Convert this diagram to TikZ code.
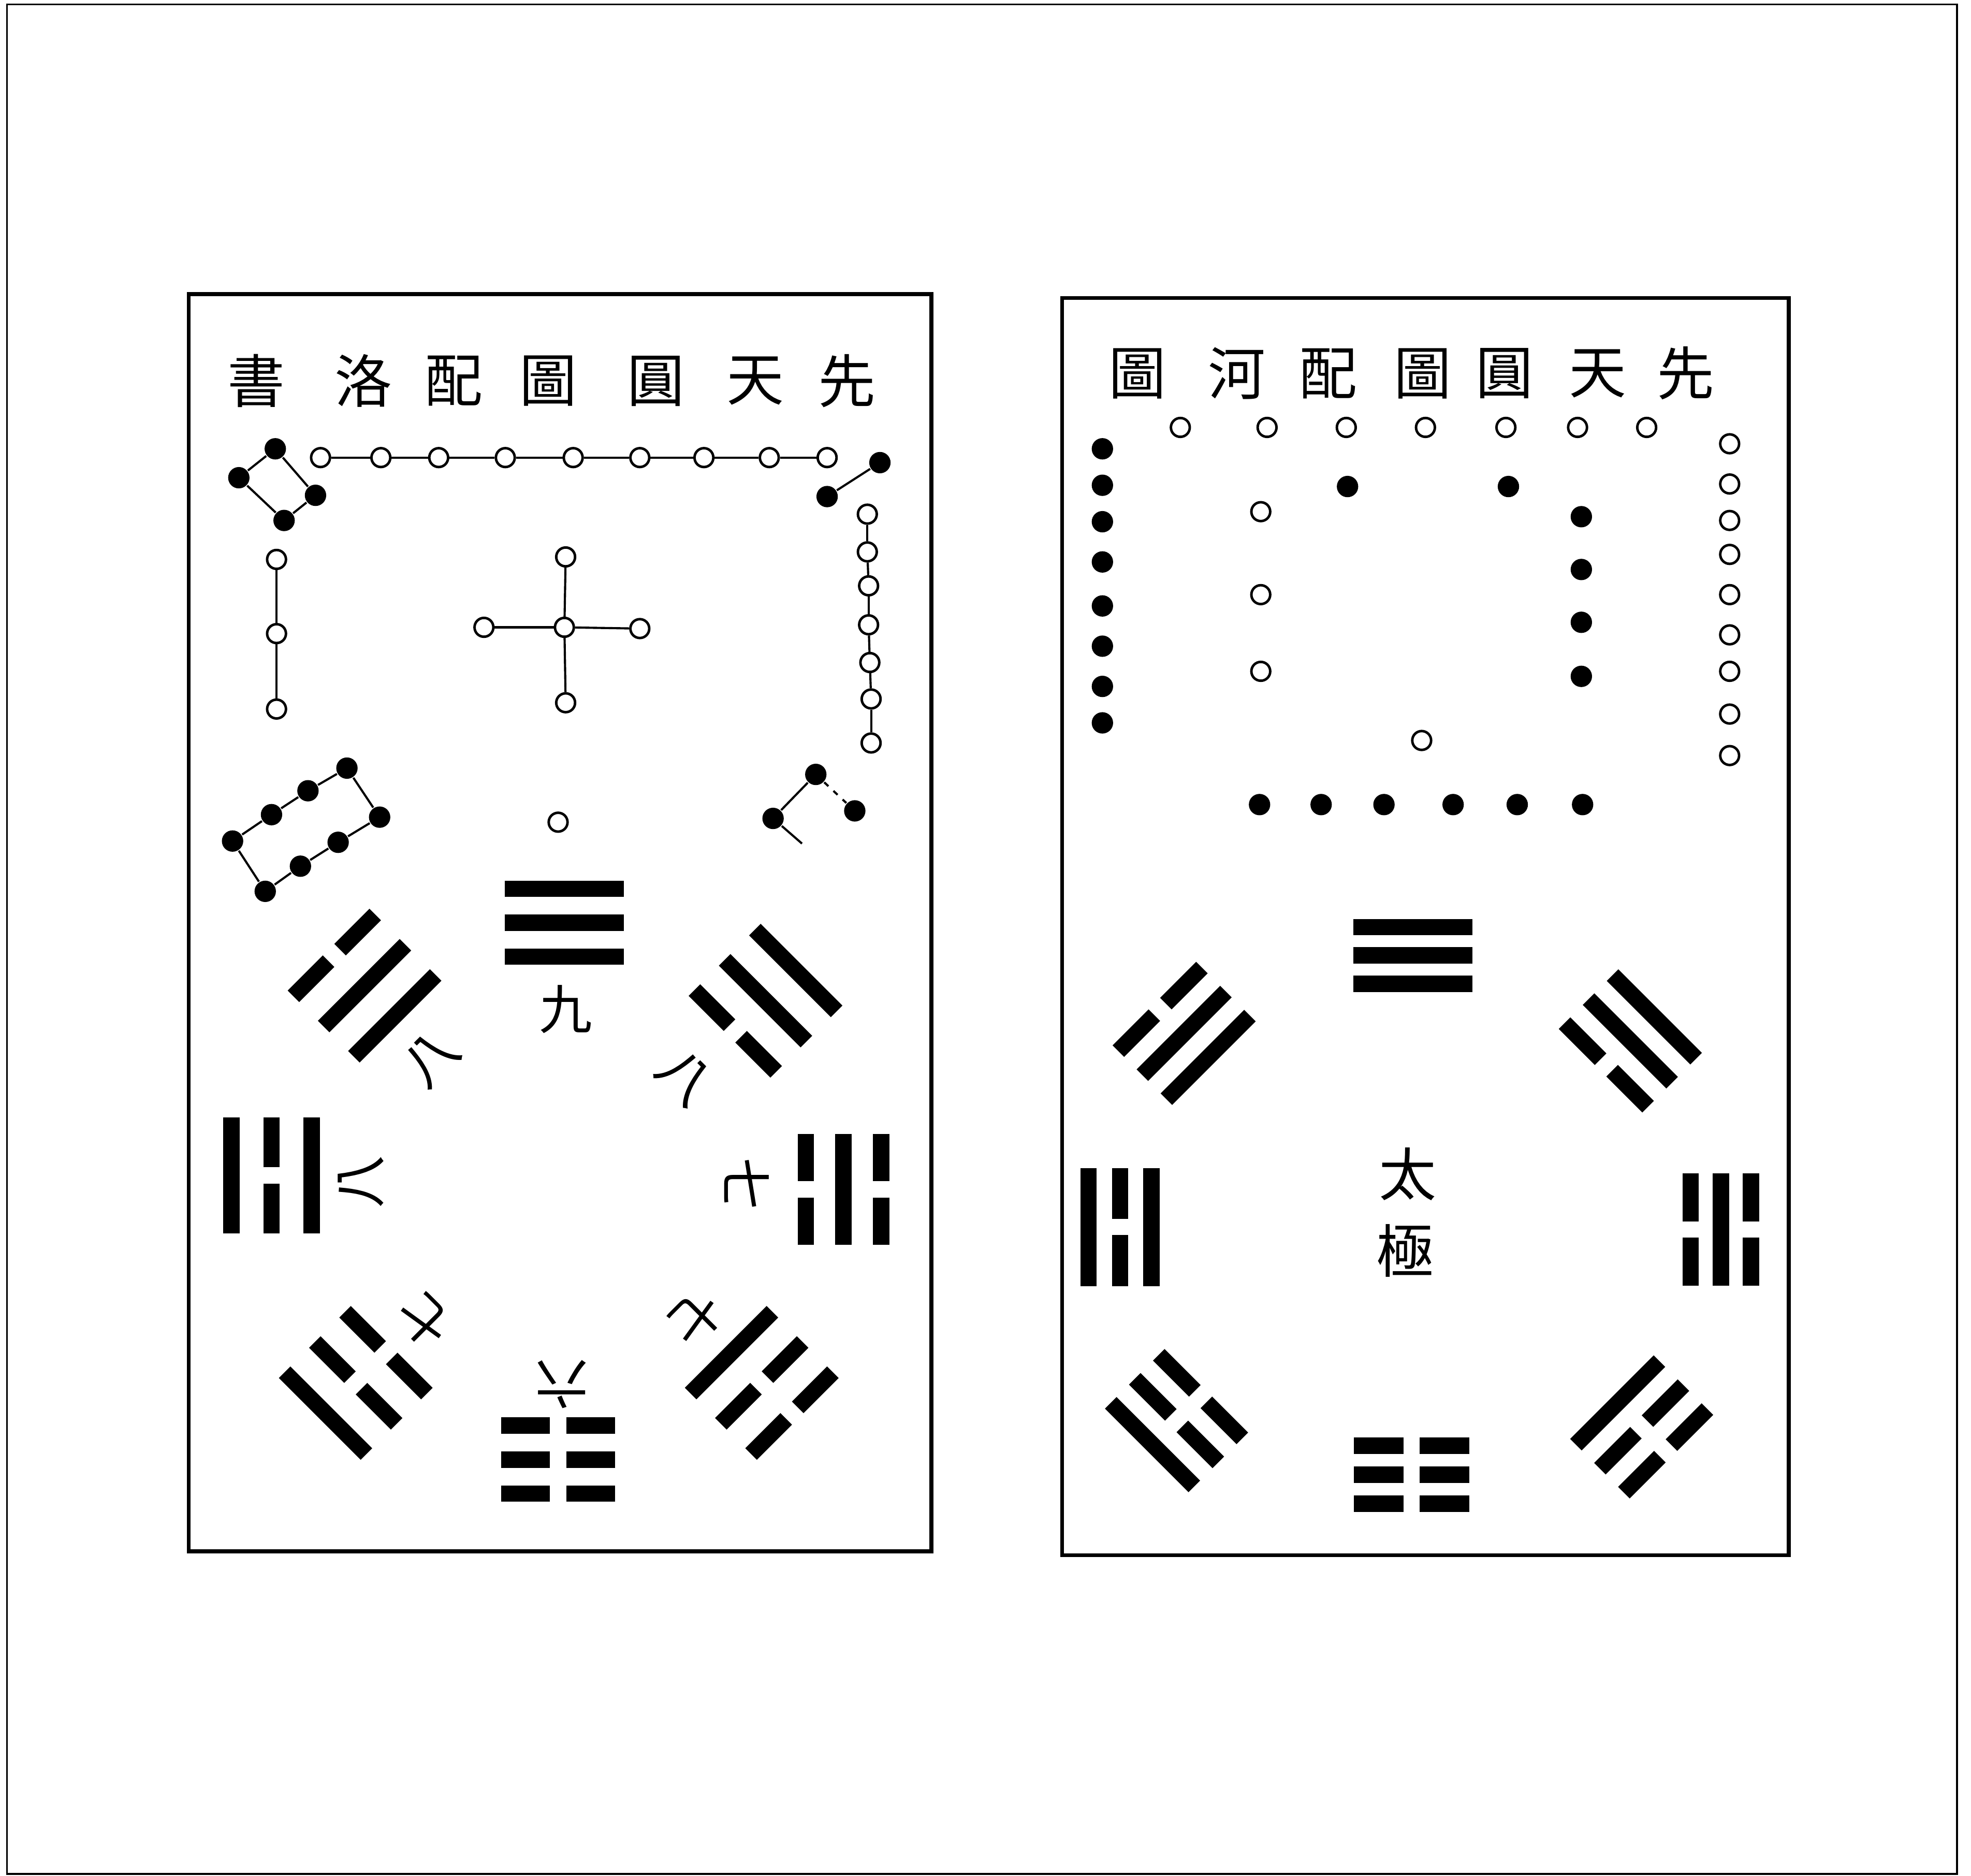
\documentclass[tikz,border=0pt]{standalone}
\usepackage{fontspec}
\newfontfamily\cjk{Noto Sans CJK TC}
\usetikzlibrary{positioning}

\newcommand{\gua}[6]{%
  \begin{scope}[shift={(#1,#2)},rotate=#3]
    \foreach \yy [count=\i] in {#6}{%
      \pgfmathsetmacro{\off}{(2-\i)*#4}%
      \ifnum\yy=1
        \draw[yao] (-#5/2,\off) -- (#5/2,\off);
      \else
        \draw[yao] (-#5/2,\off) -- (-6.5,\off) (6.5,\off) -- (#5/2,\off);
      \fi
    }
  \end{scope}}

\begin{document}
\begin{tikzpicture}[x=0.1mm, y=-0.1mm,
    opendot/.style={circle, draw, line width=0.2mm, inner sep=0, minimum size=1.5mm},
    blackdot/.style={circle, fill, inner sep=0, minimum size=1.7mm},
    link/.style={line width=0.17mm},
    yao/.style={line width=1.3mm},
    title/.style={font=\cjk\fontsize{13pt}{15pt}\selectfont, inner sep=0},
    num/.style={font=\cjk\fontsize{12pt}{14pt}\selectfont, inner sep=0}]
  \useasboundingbox (0,0) rectangle (1568,1492);
  \draw[line width=0.15mm] (5.5,3.5) rectangle (1557,1490.5);

  % left panel
  \draw[line width=0.3mm] (150,234) rectangle (741,1234);
  \foreach \ch/\x [count=\i] in {書/204,洛/289,配/361,圖/436,圓/522,天/601,先/674}
    \node[title] (lt\i) at (\x,303) {\ch};

  \foreach \x [count=\i] in {255,303,349,402,456,509,560,612,658}
    \node[opendot] (nine\i) at (\x,364) {};
  \foreach \i in {1,...,8}{\pgfmathtruncatemacro{\j}{\i+1}\draw[link] (nine\i) -- (nine\j);}

  \node[blackdot] (four1) at (219,357) {};
  \node[blackdot] (four2) at (190,380) {};
  \node[blackdot] (four3) at (226,414) {};
  \node[blackdot] (four4) at (251,394) {};
  \draw[link] (four1) -- (four2) -- (four3) -- (four4) -- (four1);

  \node[blackdot] (two1) at (700,368) {};
  \node[blackdot] (two2) at (658,395) {};
  \draw[link] (two1) -- (two2);

  \foreach \y [count=\i] in {445,504,564}
    \node[opendot] (three\i) at (220,\y) {};
  \draw[link] (three1) -- (three2) -- (three3);

  \node[opendot] (five0) at (449,499) {};
  \node[opendot] (five1) at (450,443) {};
  \node[opendot] (five2) at (509,500) {};
  \node[opendot] (five3) at (450,559) {};
  \node[opendot] (five4) at (385,499) {};
  \foreach \i in {1,...,4} \draw[link] (five0) -- (five\i);

  \foreach \x/\y [count=\i] in {690/409,690/439,691/466,691/497,692/527,693/556,693/591}
    \node[opendot] (seven\i) at (\x,\y) {};
  \foreach \i in {1,...,6}{\pgfmathtruncatemacro{\j}{\i+1}\draw[link] (seven\i) -- (seven\j);}

  \foreach \x/\y [count=\i] in {185/669,216/648,245/629,276/611,302/650,269/670,239/689,211/709}
    \node[blackdot] (eight\i) at (\x,\y) {};
  \draw[link] (eight1) -- (eight2) -- (eight3) -- (eight4) -- (eight5) -- (eight6) -- (eight7) -- (eight8) -- (eight1);

  \node[opendot] (one) at (444,654) {};

  \node[blackdot] (six1) at (649,616) {};
  \node[blackdot] (six2) at (680,645) {};
  \node[blackdot] (six3) at (615,651) {};
  \coordinate (six4) at (638,671);
  \draw[link] (six1) -- (six3) -- (six4);
  \draw[link, dash pattern=on 0.45mm off 0.55mm] (six1) -- (six2);

  \gua{449}{734}{0}{27}{95}{1,1,1}
  \gua{444}{1161}{180}{27}{91}{0,0,0}
  \gua{216}{935}{90}{32}{92}{1,0,1}
  \gua{671}{946}{-90}{30}{88}{0,1,0}
  \gua{290}{784}{45}{34}{92}{1,1,0}
  \gua{609}{796}{-45}{34}{92}{0,1,1}
  \gua{283}{1100}{135}{34}{92}{0,0,1}
  \gua{606}{1100}{-135}{34}{92}{1,0,0}

  \node[num] (ntop) at (450,803) {九};
  \node[num, rotate=45] (ntl) at (343,842) {八};
  \node[num, rotate=-45] (ntr) at (545,857) {八};
  \node[num, rotate=90] (nleft) at (287,940) {八};
  \node[num, rotate=-90] (nright) at (594,942) {七};
  \node[num, rotate=135] (nbl) at (337,1050) {七};
  \node[num, rotate=-135] (nbr) at (553,1049) {七};
  \node[num, rotate=180] (nbot) at (447,1101) {六};

  % right panel
  \draw[line width=0.3mm] (845,237) rectangle (1423,1237);
  \foreach \ch/\x [count=\i] in {圖/905,河/984,配/1057,圖/1132,圓/1197,天/1271,先/1341}
    \node[title] (rt\i) at (\x,297) {\ch};

  \foreach \x [count=\i] in {939,1008,1071,1134,1198,1255,1310}
    \node[opendot] (hs\i) at (\x,340) {};
  \foreach \y [count=\i] in {357,386,415,447,482,514,546,575}
    \node[blackdot] (hw\i) at (877,\y) {};
  \foreach \y [count=\i] in {353,385,414,441,473,505,534,568,601}
    \node[opendot] (he\i) at (1376,\y) {};
  \node[blackdot] (hin1) at (1072,387) {};
  \node[blackdot] (hin2) at (1200,387) {};
  \foreach \y [count=\i] in {407,473,534}
    \node[opendot] (hiw\i) at (1003,\y) {};
  \foreach \y [count=\i] in {411,453,495,538}
    \node[blackdot] (hie\i) at (1258,\y) {};
  \node[opendot] (hic) at (1131,589) {};
  \foreach \x [count=\i] in {1002,1051,1101,1156,1207,1259}
    \node[blackdot] (hn\i) at (\x,640) {};

  \gua{1124}{760}{0}{22.5}{95}{1,1,1}
  \gua{1123}{1173}{180}{23}{92}{0,0,0}
  \gua{891}{976}{90}{25}{94}{1,0,1}
  \gua{1369}{978}{-90}{24}{89}{0,1,0}
  \gua{942}{822}{45}{27}{94}{1,1,0}
  \gua{1297}{828}{-45}{27}{94}{0,1,1}
  \gua{936}{1130}{135}{27}{94}{0,0,1}
  \gua{1306}{1135}{-135}{27}{94}{1,0,0}

  \node[title] (tai) at (1120,934) {太};
  \node[title] (ji) at (1118,995) {極};
\end{tikzpicture}
\end{document}
